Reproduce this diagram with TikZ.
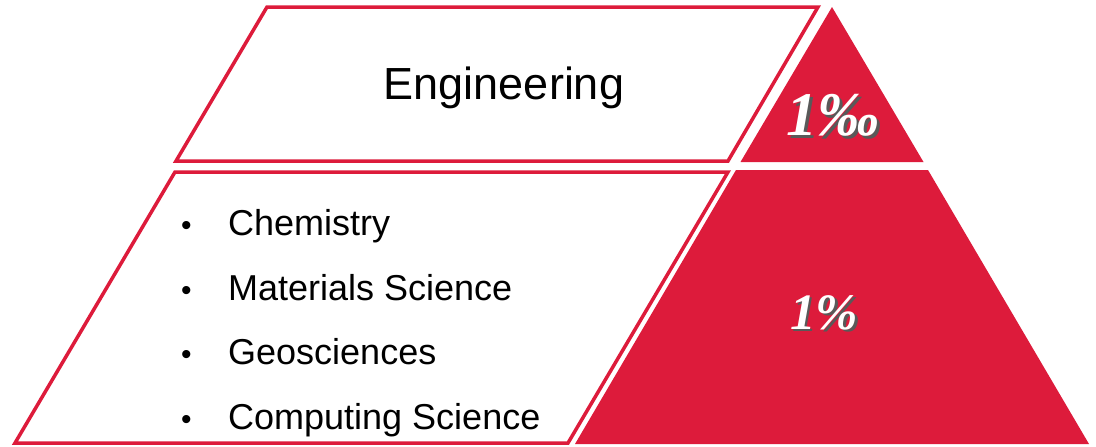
\documentclass[tikz,border=0pt]{standalone}
\usepackage{fontspec}
\setmainfont{Liberation Sans}
\newfontfamily\handfont{Liberation Serif}
\usetikzlibrary{positioning}
\definecolor{pyred}{RGB}{221,27,59}
\tikzset{
    layer/.style={draw=pyred, line width=3.5pt, fill=white},
    peak/.style={fill=pyred},
    item/.style={anchor=base west, inner sep=0pt, font=\fontsize{36}{40}\selectfont},
    share/.style={text=white, font=\handfont\bfseries\itshape\fontsize{54}{60}\selectfont},
}
\newcommand{\bul}{\makebox[47pt][l]{\fontsize{30}{30}\selectfont\textbullet}}
\newcommand{\shadowed}[1]{\leavevmode\rlap{\kern2.5pt\raisebox{-2.5pt}{\color{black!65}#1}}#1}

\begin{document}
\begin{tikzpicture}[x=1pt, y=-1pt]
    \useasboundingbox (0,0) rectangle (1096,447);

    % Top layer
    \draw[layer] (267,7) -- (818,7) -- (728,161) -- (176,161) -- cycle;
    \node[anchor=base, font=\fontsize{45}{54}\selectfont] (eng) at (504,99) {Engineering};

    % Bottom layer
    \draw[layer] (175,172) -- (728,172) -- (568,443) -- (15,443) -- cycle;
    \node[item] (chem) at (181,235) {\bul Chemistry};
    \node[item] (mat) at (181,300) {\bul Materials Science};
    \node[item] (geo) at (181,364) {\bul Geosciences};
    \node[item] (comp) at (181,429) {\bul Computing Science};

    % Pyramid
    \fill[peak] (832,7) -- (923.5,162) -- (740.5,162) -- cycle;
    \fill[peak] (736,170) -- (928,170) -- (1089,444) -- (575,444) -- cycle;

    % Shares
    \node[share, font=\handfont\bfseries\itshape\fontsize{62}{66}\selectfont] (permille) at (833,117) {\shadowed{1‰}};
    \node[share, font=\handfont\bfseries\itshape\fontsize{51}{60}\selectfont] (percent) at (824,314) {\shadowed{1\%}};
\end{tikzpicture}
\end{document}
